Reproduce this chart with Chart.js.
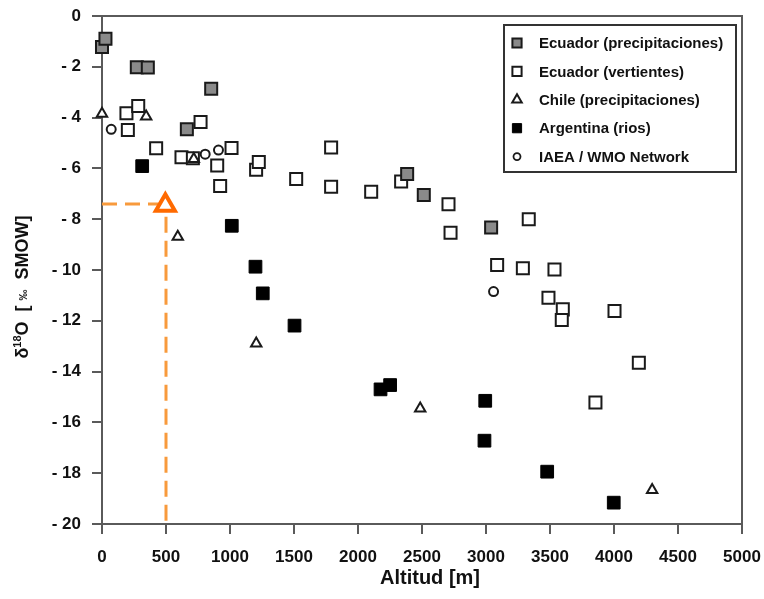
<!DOCTYPE html>
<html lang="es">
<head>
<meta charset="UTF-8">
<title>Altitud vs δ18O</title>
<script src="https://cdn.jsdelivr.net/npm/chart.js@4.4.1/dist/chart.umd.min.js"></script>
<style>
  body { margin: 0; background: #fff; }
  #wrap { width: 764px; height: 599px; }
</style>
</head>
<body>
<div id="wrap"><canvas id="chart" width="764" height="599"></canvas></div>
<script>
// Ecuador (precipitaciones) - cuadrados grises
const ecuPrecAlt  = [0, 27, 272, 358, 853, 663, 2384, 2514, 3040];
const ecuPrecD18O = [-1.22, -0.9, -2.02, -2.03, -2.86, -4.46, -6.22, -7.05, -8.33];

// Ecuador (vertientes) - cuadrados blancos
const ecuVertAlt  = [191, 283, 202, 423, 770, 621, 710, 900, 923, 1012, 1204, 1225, 1517,
                     1790, 1790, 2103, 2337, 2707, 2723, 3334, 3087, 3288, 3535, 3488,
                     3600, 3592, 4004, 4194, 3855];
const ecuVertD18O = [-3.83, -3.54, -4.49, -5.21, -4.17, -5.56, -5.6, -5.89, -6.69, -5.2, -6.05, -5.75, -6.42,
                     -5.18, -6.72, -6.92, -6.52, -7.41, -8.53, -8.0, -9.8, -9.93, -9.98, -11.09,
                     -11.55, -11.97, -11.61, -13.65, -15.22];

// Chile (precipitaciones) - triángulos
const chileAlt  = [0, 345, 717, 592, 1205, 2486, 4298];
const chileD18O = [-3.85, -3.96, -5.63, -8.69, -12.89, -15.45, -18.66];

// Argentina (rios) - cuadrados negros
const argAlt  = [314, 1014, 1199, 1256, 1504, 2176, 2251, 2994, 2988, 3478, 3998];
const argD18O = [-5.91, -8.26, -9.87, -10.92, -12.19, -14.70, -14.53, -15.15, -16.72, -17.94, -19.16];

// IAEA / WMO Network - círculos
const iaeaAlt  = [72, 806, 910, 3059];
const iaeaD18O = [-4.46, -5.44, -5.28, -10.85];

// punto destacado y líneas guía
const markAlt  = [495];
const markD18O = [-7.45];
const guideH = { alt: [0, 440], d18o: [-7.4, -7.4] };
const guideV = { alt: [500, 500], d18o: [-7.9, -20] };

const xTicks = [0, 500, 1000, 1500, 2000, 2500, 3000, 3500, 4000, 4500, 5000];
const yTicks = [0, -2, -4, -6, -8, -10, -12, -14, -16, -18, -20];

function pts(xs, ys) {
  return xs.map((x, i) => ({ x: x, y: ys[i] }));
}

const AXIS = '#5a5a5a';
const FONT = 'Arial, "Liberation Sans", sans-serif';
const ORANGE = '#F89A3C';

const series = [
  { label: 'Ecuador (precipitaciones)', data: pts(ecuPrecAlt, ecuPrecD18O), pointStyle: 'rect',
    pointRadius: 8.5, backgroundColor: '#8a8a8a', borderColor: '#1a1a1a', borderWidth: 2, order: 1 },
  { label: 'Ecuador (vertientes)', data: pts(ecuVertAlt, ecuVertD18O), pointStyle: 'rect',
    pointRadius: 8.5, backgroundColor: '#ffffff', borderColor: '#1a1a1a', borderWidth: 2, order: 5 },
  { label: 'Chile (precipitaciones)', data: pts(chileAlt, chileD18O), pointStyle: 'triangle',
    pointRadius: 6, backgroundColor: '#ffffff', borderColor: '#1a1a1a', borderWidth: 2, order: 2 },
  { label: 'Argentina (rios)', data: pts(argAlt, argD18O), pointStyle: 'rect',
    pointRadius: 9, backgroundColor: '#000000', borderColor: '#000000', borderWidth: 1, order: 4 },
  { label: 'IAEA / WMO Network', data: pts(iaeaAlt, iaeaD18O), pointStyle: 'circle',
    pointRadius: 4.5, backgroundColor: '#ffffff', borderColor: '#1a1a1a', borderWidth: 2, order: 3 }
];

const datasets = series.map(s => ({
  label: s.label,
  data: s.data,
  pointStyle: s.pointStyle,
  pointRadius: s.pointRadius,
  pointHoverRadius: s.pointRadius,
  pointBackgroundColor: s.backgroundColor,
  pointBorderColor: s.borderColor,
  pointBorderWidth: s.borderWidth,
  backgroundColor: s.backgroundColor,
  borderColor: s.borderColor,
  borderWidth: s.borderWidth,
  showLine: false,
  clip: false,
  order: s.order
}));

datasets.push({
  type: 'line', label: 'guia-h', data: pts(guideH.alt, guideH.d18o),
  borderColor: ORANGE, borderWidth: 3, borderDash: [15, 8], pointRadius: 0, fill: false, clip: false, order: 7
});
datasets.push({
  type: 'line', label: 'guia-v', data: pts(guideV.alt, guideV.d18o),
  borderColor: ORANGE, borderWidth: 3, borderDash: [16, 8], pointRadius: 0, fill: false, clip: false, order: 7
});
datasets.push({
  label: 'marca', data: pts(markAlt, markD18O), pointStyle: 'triangle',
  pointRadius: 11, pointBackgroundColor: '#ffffff', pointBorderColor: '#FF6A00', pointBorderWidth: 4,
  showLine: false, clip: false, order: 0
});

// las escalas no deben pedir márgenes extra por las etiquetas
function fixPadding(scale) {
  scale.paddingLeft = 0;
  scale.paddingRight = 0;
  scale.paddingTop = 0;
  scale.paddingBottom = 0;
}

// marco superior/derecho, títulos de ejes y leyenda
const framePlugin = {
  id: 'frame',
  afterDraw(chart) {
    const ctx = chart.ctx;
    const a = chart.chartArea;
    ctx.save();
    ctx.strokeStyle = AXIS;
    ctx.lineWidth = 2;
    ctx.beginPath();
    ctx.moveTo(a.left, a.top);
    ctx.lineTo(a.right, a.top);
    ctx.lineTo(a.right, a.bottom);
    ctx.stroke();

    // título eje x
    ctx.fillStyle = '#111';
    ctx.font = 'bold 20px ' + FONT;
    ctx.textAlign = 'center';
    ctx.textBaseline = 'middle';
    ctx.fillText('Altitud [m]', 430, 578);

    // título eje y (δ con 18 en superíndice)
    ctx.save();
    ctx.translate(23, 287);
    ctx.rotate(-Math.PI / 2);
    const big = 'bold 18px ' + FONT;
    const small = 'bold 11px ' + FONT;
    const parts = [
      { t: 'δ', f: big, dy: 0 },
      { t: '18', f: small, dy: -5 },
      { t: 'O  [ ', f: big, dy: 0 },
      { t: '‰', f: small, dy: 1 },
      { t: '  SMOW]', f: big, dy: 0 }
    ];
    let total = 0;
    parts.forEach(p => { ctx.font = p.f; p.w = ctx.measureText(p.t).width; total += p.w; });
    let x = -total / 2;
    ctx.textAlign = 'left';
    parts.forEach(p => { ctx.font = p.f; ctx.fillText(p.t, x, p.dy); x += p.w; });
    ctx.restore();

    // leyenda
    const bx = 504, by = 25, bw = 232, bh = 147;
    ctx.fillStyle = '#ffffff';
    ctx.fillRect(bx, by, bw, bh);
    ctx.strokeStyle = '#333';
    ctx.lineWidth = 2;
    ctx.strokeRect(bx, by, bw, bh);

    const legendSizes = [6.5, 6.5, 5.5, 6.5, 3.5];
    ctx.font = 'bold 15px ' + FONT;
    ctx.textAlign = 'left';
    ctx.textBaseline = 'middle';
    series.forEach((s, i) => {
      const y = 43 + i * 28.4;
      ctx.fillStyle = s.backgroundColor;
      ctx.strokeStyle = s.borderColor;
      ctx.lineWidth = s.pointStyle === 'circle' ? 1.8 : s.borderWidth;
      Chart.helpers.drawPoint(ctx, { pointStyle: s.pointStyle, rotation: 0, radius: legendSizes[i], borderWidth: ctx.lineWidth }, 517, y);
      ctx.fillStyle = '#111';
      ctx.fillText(s.label, 539, y + 1);
    });
    ctx.restore();
  }
};

new Chart(document.getElementById('chart'), {
  type: 'scatter',
  data: { datasets: datasets },
  options: {
    responsive: false,
    animation: false,
    layout: { padding: { top: 16, right: 22, left: 0, bottom: 0 } },
    plugins: {
      legend: { display: false },
      tooltip: { enabled: false }
    },
    scales: {
      x: {
        type: 'linear',
        min: 0, max: 5000,
        afterFit(scale) { scale.height = 75; fixPadding(scale); },
        afterBuildTicks(scale) { scale.ticks = xTicks.map(v => ({ value: v })); },
        grid: { drawOnChartArea: false, drawTicks: true, tickLength: 10, color: AXIS, lineWidth: 2 },
        border: { display: true, color: AXIS, width: 2 },
        ticks: { color: '#111', font: { family: FONT, size: 17, weight: 'bold' }, padding: 13, maxRotation: 0,
                 callback: v => String(v) }
      },
      y: {
        type: 'linear',
        min: -20, max: 0,
        afterFit(scale) { scale.width = 102; fixPadding(scale); },
        afterBuildTicks(scale) { scale.ticks = yTicks.map(v => ({ value: v })); },
        grid: { drawOnChartArea: false, drawTicks: true, tickLength: 10, color: AXIS, lineWidth: 2 },
        border: { display: true, color: AXIS, width: 2 },
        ticks: { color: '#111', font: { family: FONT, size: 17, weight: 'bold' }, padding: 11,
                 callback: v => v === 0 ? '0' : '- ' + Math.abs(v) }
      }
    }
  },
  plugins: [framePlugin]
});
</script>
</body>
</html>
